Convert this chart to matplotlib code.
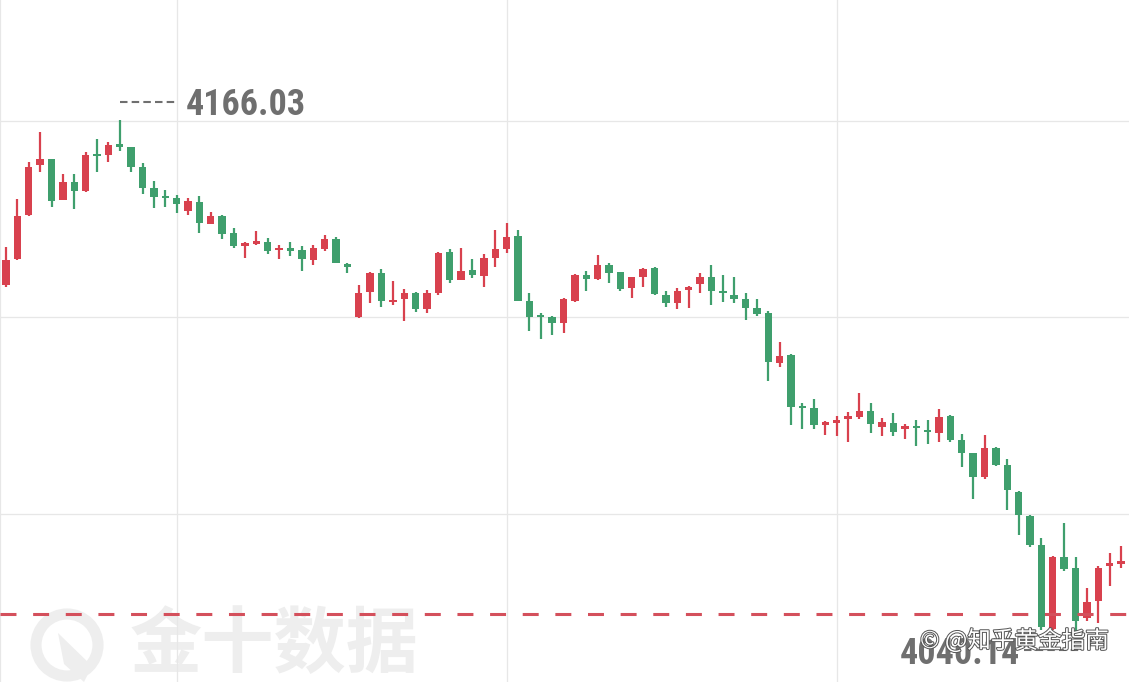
import matplotlib
matplotlib.use("Agg")
import matplotlib.pyplot as plt
import matplotlib.patheffects as pe
from matplotlib import font_manager
from matplotlib.lines import Line2D
from matplotlib.patches import Circle, Polygon
from matplotlib.transforms import IdentityTransform
import numpy as np

# ---------------- data ----------------
opens = [4125.4, 4131.7, 4142.6, 4154.9, 4156.3, 4146.3, 4150.8, 4148.5, 4157.6, 4157.4,
         4160.0, 4159.3, 4154.5, 4149.2, 4147.2, 4146.9, 4143.6, 4145.9, 4140.4, 4142.4,
         4138.1, 4135.1, 4135.4, 4136.0, 4133.9, 4134.4, 4133.9, 4131.5, 4134.2, 4136.7,
         4130.6, 4117.6, 4123.7, 4128.4, 4121.3, 4121.9, 4123.5, 4119.5, 4123.5, 4133.6,
         4126.6, 4129.1, 4127.6, 4132.0, 4134.2, 4137.4, 4121.5, 4117.7, 4117.4, 4116.0,
         4121.5, 4127.8, 4126.9, 4130.3, 4128.5, 4124.6, 4127.4, 4129.6, 4122.9, 4120.9,
         4124.1, 4125.6, 4127.4, 4123.9, 4122.9, 4122.0, 4119.6, 4118.6, 4106.2, 4108.1,
         4095.3, 4095.2, 4090.9, 4091.4, 4092.4, 4092.9, 4094.4, 4090.5, 4091.5, 4089.8,
         4090.5, 4089.4, 4089.0, 4093.2, 4087.3, 4083.9, 4078.0, 4085.3, 4081.0, 4074.5,
         4068.5, 4061.3, 4040.6, 4058.4, 4055.7, 4043.3, 4047.5, 4056.2, 4056.6, 4057.4]
highs = [4134.8, 4146.5, 4155.8, 4163.1, 4156.4, 4152.7, 4152.7, 4158.2, 4161.3, 4160.7,
         4166.03, 4159.4, 4155.4, 4151.1, 4148.8, 4147.5, 4146.9, 4147.3, 4143.4, 4142.6,
         4139.5, 4136.0, 4138.7, 4136.9, 4135.2, 4136.0, 4135.0, 4135.2, 4137.7, 4137.3,
         4130.7, 4125.4, 4128.6, 4129.2, 4126.4, 4124.4, 4123.7, 4124.1, 4133.6, 4134.2,
         4134.4, 4131.8, 4133.0, 4138.9, 4140.7, 4138.9, 4123.3, 4118.4, 4117.7, 4122.1,
         4128.1, 4128.8, 4132.8, 4130.8, 4128.7, 4127.4, 4129.5, 4129.9, 4123.9, 4124.6,
         4125.2, 4128.3, 4130.3, 4127.8, 4127.4, 4123.3, 4121.9, 4119.0, 4111.4, 4108.3,
         4096.2, 4097.2, 4091.9, 4093.2, 4094.2, 4098.8, 4096.4, 4092.5, 4093.8, 4091.1,
         4092.1, 4092.2, 4094.8, 4093.4, 4088.7, 4084.1, 4088.4, 4085.5, 4082.4, 4074.6,
         4068.6, 4063.0, 4058.6, 4066.8, 4058.3, 4050.7, 4056.2, 4059.4, 4061.1, 4058.1]
lows = [4125.0, 4131.5, 4142.5, 4153.3, 4144.5, 4146.2, 4144.1, 4148.4, 4153.3, 4155.8,
        4158.5, 4153.3, 4147.8, 4144.4, 4144.5, 4143.0, 4142.6, 4138.3, 4140.3, 4136.6,
        4134.6, 4132.0, 4135.2, 4133.0, 4131.7, 4132.5, 4128.9, 4130.3, 4133.8, 4130.7,
        4128.3, 4117.2, 4120.9, 4119.9, 4120.4, 4116.5, 4118.8, 4118.6, 4122.9, 4125.9,
        4126.5, 4127.0, 4125.0, 4129.7, 4133.3, 4121.4, 4114.1, 4112.0, 4113.1, 4113.6,
        4121.3, 4124.0, 4126.6, 4125.8, 4123.9, 4122.3, 4125.0, 4122.9, 4119.9, 4119.4,
        4119.6, 4123.5, 4120.4, 4121.3, 4121.0, 4116.7, 4117.7, 4101.8, 4105.2, 4091.0,
        4089.8, 4089.8, 4088.4, 4088.3, 4086.6, 4092.3, 4089.0, 4088.3, 4088.2, 4087.4,
        4085.8, 4086.3, 4086.8, 4086.7, 4080.6, 4072.6, 4077.5, 4080.9, 4069.9, 4063.8,
        4060.9, 4040.4, 4040.3, 4055.0, 4040.14, 4042.7, 4042.0, 4051.2, 4055.6, 4050.2]
closes = [4131.5, 4142.4, 4154.5, 4156.3, 4146.1, 4150.8, 4148.6, 4157.4, 4157.2, 4159.9,
          4159.4, 4154.5, 4149.2, 4147.0, 4146.9, 4145.3, 4146.1, 4140.6, 4142.4, 4137.9,
          4135.0, 4135.8, 4136.3, 4133.8, 4134.4, 4133.8, 4131.7, 4134.4, 4136.7, 4130.9,
          4129.9, 4123.5, 4128.4, 4121.5, 4121.8, 4123.5, 4119.5, 4123.3, 4133.2, 4126.6,
          4128.8, 4127.8, 4132.0, 4134.2, 4137.1, 4121.5, 4117.6, 4117.4, 4115.9, 4121.9,
          4127.8, 4126.9, 4130.3, 4128.4, 4124.3, 4127.3, 4129.3, 4123.2, 4121.0, 4124.0,
          4125.0, 4127.4, 4123.9, 4123.4, 4121.9, 4119.6, 4118.3, 4106.5, 4108.0, 4095.3,
          4095.1, 4091.0, 4091.6, 4092.1, 4093.2, 4094.4, 4091.1, 4091.7, 4089.2, 4090.6,
          4090.1, 4089.2, 4092.9, 4087.2, 4084.0, 4078.1, 4085.2, 4081.0, 4074.9, 4068.7,
          4061.3, 4041.1, 4058.4, 4055.3, 4042.7, 4047.4, 4055.7, 4056.8, 4057.5, 4051.5]

grid_prices = [4165.90, 4117.42, 4068.88]
grid_candles = [15, 44, 73]
ref_price = 4044.45
wm_text = "金十数据"
zh_text = "© @知乎黄金指南"

UP = "#d8414e"
DOWN = "#3f9f6d"
GRID = "#e7e7e7"
LABEL = "#6f6f6f"
WM = "#eeeeee"

plt.rcParams["lines.scale_dashes"] = False


def has_font(name):
    try:
        font_manager.findfont(font_manager.FontProperties(family=name),
                              fallback_to_default=False)
        return True
    except Exception:
        return False


if has_font("Liberation Sans Narrow"):
    lab_family, lab_size = "Liberation Sans Narrow", 27.5
elif has_font("Roboto Condensed"):
    lab_family, lab_size = "Roboto Condensed", 26
else:
    lab_family, lab_size = "Roboto", 23

W, H = 1129, 682
fig = plt.figure(figsize=(W / 100, H / 100), dpi=100)
fig.patch.set_facecolor("white")
ax = fig.add_axes([0, 0, 1, 1])
ax.set_facecolor("none")
ax.set_zorder(2)
ax.set_xlim(-0.527, 98.70)
ax.set_ylim(4027.58, 4195.59)
for s in ["top", "right", "bottom"]:
    ax.spines[s].set_visible(False)
ax.spines["left"].set_color(GRID)
ax.spines["left"].set_linewidth(1.6)
ax.set_xticks([])
ax.set_yticks([])

# watermark (bottom-left), behind the plot
fig.text(130 / W, 1 - 667 / H, wm_text, fontsize=52, fontweight="bold",
         family=["Noto Sans CJK SC", "DejaVu Sans"], color=WM, ha="left",
         va="baseline", zorder=0)
ring = Circle((67, H - 645), 31, fill=False, lw=8, ec=WM,
              transform=IdentityTransform(), zorder=0)
fig.add_artist(ring)
needle = Polygon([(58, H - 633), (92, H - 666), (84, H - 682), (64, H - 664)], closed=True,
                 fc=WM, ec="none", transform=IdentityTransform(), zorder=0)
fig.add_artist(needle)

# grid
for gp in grid_prices:
    ax.axhline(gp, color=GRID, lw=0.9, zorder=1)
for gc in grid_candles:
    ax.axvline(gc, color=GRID, lw=0.9, zorder=1)

# candles
o = np.array(opens)
c = np.array(closes)
h = np.array(highs)
l = np.array(lows)
x = np.arange(len(o))
cols = np.where(c >= o, UP, DOWN)
ax.vlines(x, l, h, colors=cols, linewidth=1.6, zorder=3)
bottom = np.minimum(o, c)
height = np.maximum(np.abs(c - o), 0.5)
ax.bar(x, height, bottom=bottom, width=0.65, color=cols, linewidth=0, zorder=4)

# reference dashed line
ax.axhline(ref_price, color="#d4505c", lw=2.2, dashes=(11.5, 12.0), zorder=5)

# high / low labels
fig.canvas.draw()
hi_i = int(np.argmax(h))
lo_i = int(np.argmin(l))
hx, hy = ax.transData.transform((hi_i, h[hi_i]))
lx, ly = ax.transData.transform((lo_i, l[lo_i]))

fig.add_artist(Line2D([hx, hx + 58], [hy + 18, hy + 18], transform=IdentityTransform(),
                      color=LABEL, lw=1.5, dashes=(5.4, 3.0), zorder=6))
ax.annotate(f"{h[hi_i]:.2f}", xy=(hi_i, h[hi_i]), xytext=(66, 5), textcoords="offset pixels",
            ha="left", va="baseline", fontsize=lab_size, fontweight="bold",
            family=lab_family, color=LABEL, zorder=6)

fig.add_artist(Line2D([lx - 52, lx + 4], [ly - 19, ly - 19], transform=IdentityTransform(),
                      color=LABEL, lw=1.5, dashes=(5.4, 3.0), zorder=6))
ax.annotate(f"{l[lo_i]:.2f}", xy=(lo_i, l[lo_i]), xytext=(-56, -33), textcoords="offset pixels",
            ha="right", va="baseline", fontsize=lab_size, fontweight="bold",
            family=lab_family, color=LABEL, zorder=6)

# zhihu watermark on top
fig.text(920 / W, 1 - 648 / H, zh_text, fontsize=17,
         family=["Noto Sans CJK SC", "DejaVu Sans"], color="white", ha="left",
         va="baseline", zorder=10,
         path_effects=[pe.withStroke(linewidth=1.4, foreground="#555555")])

fig.savefig("out.png", dpi=100)
